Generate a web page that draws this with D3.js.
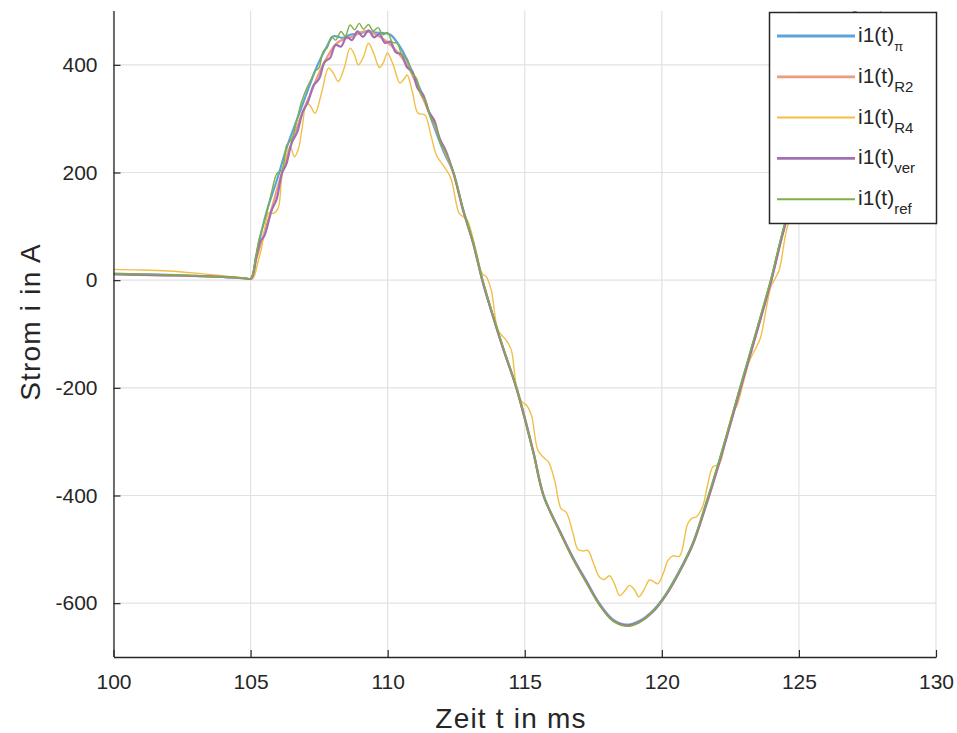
<!DOCTYPE html>
<html>
<head>
<meta charset="utf-8">
<script src="https://cdn.jsdelivr.net/npm/d3@7"></script>
<style>
  body { margin: 0; background: #fff; }
  svg { display: block; }
  text { font-family: "Liberation Sans", Arial, sans-serif; fill: #262626; }
</style>
</head>
<body>
<svg id="chart" width="957" height="733"></svg>
<script>
// Axis ticks
const xTicks = [100, 105, 110, 115, 120, 125, 130];
const yTicks = [-600, -400, -200, 0, 200, 400];

// Current i1(t) in A over time t in ms, one list of [t, i] per model
const iPi = [
  [100,12],[101,11],[102,10],[103,8],[104,6],[104.8,3.5],[105.02,3],[105.2,45],[105.35,80],[105.6,130],
  [105.96,186],[106.33,248],[106.69,298],[107.05,348],[107.42,397],[107.78,434],[108.02,453],
  [108.38,450],[108.63,456],[108.95,458],[109.24,462],[109.55,460],[109.85,459],[110.1,456],
  [110.3,445],[110.55,425],[110.81,397],[111.05,370],[111.3,341],[111.55,305],[111.78,273],
  [112.05,238],[112.39,201],[112.75,130],[113.12,68],[113.45,0],[113.8,-60],[114.2,-125],
  [114.7,-200],[115.3,-316],[115.69,-400],[116.27,-465],[116.76,-515],[117.24,-558],
  [117.73,-601],[118.21,-630],[118.7,-640],[119.18,-633],[119.67,-614],[120.15,-583],
  [120.64,-540],[121.12,-490],[121.55,-425],[122.1,-335],[122.83,-205],[123.43,-99],
  [123.98,0],[124.4,87],[125,195],[125.5,280],[126,360],[126.5,430],[127,495],[127.5,555],[128,600]
];
const iR2 = [
  [100,11],[102,9],[104,6],[104.8,3.5],[105.02,3],[105.2,38],[105.4,72],[105.7,120],[106.0,175],
  [106.3,225],[106.6,270],[106.9,312],[107.2,348],[107.5,385],[107.8,415],[108.1,438],
  [108.4,448],[108.7,452],[109.0,460],[109.3,462],[109.6,455],[109.9,446],[110.2,432],
  [110.5,415],[110.8,392],[111.1,358],[111.4,325],[111.7,290],[112.0,250],[112.4,199],
  [112.75,131],[113.12,69],[113.45,1],[113.8,-60],[114.2,-125],[114.7,-201],[115.3,-317],
  [115.69,-401],[116.27,-466],[116.76,-517],[117.24,-560],[117.73,-603],[118.21,-632],
  [118.7,-641],[119.18,-635],[119.67,-616],[120.15,-585],[120.64,-542],[121.12,-492],
  [121.55,-428],[122.1,-338],[122.83,-208],[123.43,-102],[123.98,-3],[124.4,84],[125,192],
  [125.5,277],[126,357],[126.5,428],[127,492],[127.5,552],[128,598]
];
const iR4 = [
  [100,20],[101,19],[102,17],[103,13],[104,8],[104.8,4],[105.08,3],[105.25,30],[105.41,62],[105.6,118],
  [105.68,126],[105.83,124],[106.0,133],[106.14,192],[106.3,232],[106.45,248],[106.6,229],
  [106.75,245],[106.87,279],[107.05,329],[107.2,322],[107.35,310],[107.6,350],[107.84,394],
  [108.02,384],[108.2,369],[108.42,395],[108.63,431],[108.78,420],[108.93,400],[109.12,415],
  [109.3,440],[109.5,420],[109.7,395],[109.85,405],[109.99,422],[110.2,400],[110.45,366],
  [110.6,374],[110.71,381],[110.9,350],[111.11,310],[111.36,307],[111.55,275],[111.78,232],
  [112.0,215],[112.3,190],[112.6,125],[112.75,118],[112.9,112],[113.2,60],[113.45,12],
  [113.6,6],[113.78,-19],[114.03,-93],[114.33,-112],[114.51,-130],[114.7,-198],[114.9,-226],
  [115.06,-232],[115.24,-250],[115.48,-316],[115.7,-330],[115.87,-338],[116.09,-372],
  [116.33,-425],[116.51,-431],[116.75,-468],[116.94,-500],[117.12,-503],[117.3,-502],
  [117.5,-525],[117.73,-552],[117.9,-556],[118.09,-549],[118.28,-565],[118.46,-586],
  [118.64,-578],[118.82,-567],[119.0,-575],[119.16,-588],[119.35,-575],[119.55,-557],
  [119.7,-560],[119.85,-564],[120.05,-545],[120.22,-521],[120.4,-512],[120.64,-513],
  [120.94,-453],[121.1,-442],[121.25,-440],[121.49,-420],[121.67,-380],[121.86,-347],
  [122.1,-341],[122.35,-290],[122.58,-248],[122.75,-232],[123.0,-185],[123.2,-150],
  [123.49,-120],[123.61,-105],[123.8,-55],[123.98,-12],[124.1,0],[124.28,19],[124.58,99],
  [125,150],[125.5,225],[126,300],[126.5,370],[127,425],[127.5,465],[128,500],[128.5,540]
];
const iVer = [
  [100,11],[101,10],[102,9],[103,8],[104,6],[104.8,3.5],[105.02,3],[105.2,40],[105.35,71],[105.5,82],
  [105.77,130],[105.95,150],[106.14,198],[106.3,215],[106.5,255],[106.7,275],[106.9,312],
  [107.1,332],[107.3,362],[107.5,374],[107.7,405],[107.9,413],[108.1,437],[108.3,434],
  [108.5,452],[108.7,446],[108.9,462],[109.1,452],[109.3,464],[109.5,451],[109.7,457],
  [109.9,441],[110.1,443],[110.3,423],[110.5,420],[110.7,396],[110.9,387],[111.1,356],
  [111.3,344],[111.5,313],[111.7,297],[111.9,262],[112.1,243],[112.4,199],[112.75,131],
  [113.12,69],[113.45,1],[113.8,-60],[114.2,-125],[114.7,-201],[115.3,-317],[115.69,-401],
  [116.27,-466],[116.76,-517],[117.24,-560],[117.73,-603],[118.21,-632],[118.7,-641],
  [119.18,-635],[119.67,-616],[120.15,-585],[120.64,-542],[121.12,-492],[121.55,-428],
  [122.1,-338],[122.83,-208],[123.43,-102],[123.98,-3],[124.4,84],[125,192],[125.5,277],
  [126,357],[126.5,428],[127,492],[127.5,552],[128,598]
];
const iRef = [
  [100,12],[101,11],[102,10],[103,8],[104,6],[104.8,3.5],[105.0,3],[105.15,30],[105.3,74],[105.45,100],
  [105.6,127],[105.75,160],[105.96,198],[106.15,205],[106.32,251],[106.5,262],[106.7,300],
  [106.85,330],[107.05,357],[107.2,372],[107.35,388],[107.5,395],[107.65,425],[107.8,432],
  [107.95,452],[108.1,446],[108.3,462],[108.45,453],[108.63,474],[108.8,465],[108.96,477],
  [109.12,466],[109.3,475],[109.47,463],[109.65,469],[109.82,456],[110.0,460],[110.17,442],
  [110.35,440],[110.52,418],[110.7,412],[110.87,385],[111.05,375],[111.22,345],[111.4,332],
  [111.58,300],[111.75,287],[111.92,255],[112.1,240],[112.4,200],[112.75,132],[113.12,70],
  [113.45,2],[113.8,-58],[114.2,-123],[114.7,-200],[115.3,-318],[115.69,-400],[116.27,-467],
  [116.76,-518],[117.24,-562],[117.73,-604],[118.21,-633],[118.7,-643],[119.18,-636],
  [119.67,-615],[120.15,-584],[120.64,-541],[121.12,-490],[121.55,-424],[122.1,-333],
  [122.83,-202],[123.43,-96],[123.98,3],[124.4,90],[125,200],[125.5,285],[126,365],
  [126.5,435],[127,500],[127.5,560],[128,605]
];

const seriesData = [iPi, iR2, iR4, iVer, iRef];
const seriesSubs = ["π", "R2", "R4", "ver", "ref"];

// Styling
const colors = ["#5ea3d9", "#ec9c7d", "#f1bf48", "#a46fb2", "#7ab243"];
const widths = [2.2, 2.2, 1.4, 2.2, 1.4];

const svg = d3.select("#chart");
const L = 113.5, R = 936, T = 11, B = 657;

const x = d3.scaleLinear().domain([100, 130]).range([L, R]);
const y = d3.scaleLinear().domain([-700, 500]).range([B, T]);

// Grid
const grid = svg.append("g").attr("stroke", "#e2e2e2").attr("stroke-width", 1.2);
grid.selectAll(".gx").data(xTicks).join("line")
  .attr("x1", d => x(d)).attr("x2", d => x(d)).attr("y1", T).attr("y2", B);
grid.selectAll(".gy").data(yTicks).join("line")
  .attr("x1", L).attr("x2", R).attr("y1", d => y(d)).attr("y2", d => y(d));

// Curves
svg.append("clipPath").attr("id", "plotClip")
  .append("rect").attr("x", L).attr("y", T).attr("width", R - L).attr("height", B - T);

const line = d3.line()
  .x(d => x(d[0])).y(d => y(d[1]))
  .curve(d3.curveCatmullRom.alpha(0.5));

svg.append("g").attr("clip-path", "url(#plotClip)")
  .selectAll("path").data(seriesData).join("path")
  .attr("fill", "none")
  .attr("stroke", (d, i) => colors[i])
  .attr("stroke-width", (d, i) => widths[i])
  .attr("stroke-linejoin", "round")
  .attr("d", line);

// Axes (plain hyphen for negative numbers)
const axisColor = "#262626";
const fmt = d => String(d);
const gx = svg.append("g").attr("transform", `translate(0,${B})`)
  .call(d3.axisBottom(x).tickValues(xTicks).tickSizeInner(-7).tickSizeOuter(0).tickPadding(17)
    .tickFormat(fmt));
const gy = svg.append("g").attr("transform", `translate(${L},0)`)
  .call(d3.axisLeft(y).tickValues(yTicks).tickSizeInner(-7).tickSizeOuter(0).tickPadding(16)
    .tickFormat(fmt));
[gx, gy].forEach(g => {
  g.select(".domain").attr("stroke", axisColor).attr("stroke-width", 1.3);
  g.selectAll(".tick line").attr("stroke", axisColor).attr("stroke-width", 1.2);
  g.selectAll(".tick text").attr("font-size", 21).attr("fill", axisColor)
    .attr("font-family", "'Liberation Sans', Arial, sans-serif");
});
gy.select(".domain").attr("d", `M0.5,${T}V${B}`);

// Axis titles
svg.append("text").attr("x", 511).attr("y", 728)
  .attr("text-anchor", "middle").attr("font-size", 28).attr("letter-spacing", 1.2)
  .text("Zeit t in ms");
svg.append("text").attr("transform", `translate(40,322) rotate(-90)`)
  .attr("text-anchor", "middle").attr("font-size", 28).attr("letter-spacing", 1.2)
  .text("Strom i in A");

// Legend
const lg = svg.append("g");
lg.append("rect").attr("x", 769.5).attr("y", 12.5).attr("width", 167).attr("height", 211)
  .attr("fill", "#fff").attr("stroke", "#262626").attr("stroke-width", 1.5);
const rows = lg.selectAll(".row").data(seriesSubs).join("g")
  .attr("transform", (d, i) => `translate(0,${36 + i * 40.8})`);
rows.append("line").attr("x1", 777).attr("x2", 855).attr("y1", 0).attr("y2", 0)
  .attr("stroke", (d, i) => colors[i]).attr("stroke-width", (d, i) => widths[i] + 0.6);
const lt = rows.append("text").attr("x", 858).attr("y", 6).attr("font-size", 21);
lt.append("tspan").text("i1(t)");
lt.append("tspan").attr("dy", 9).attr("font-size", (d, i) => i === 0 ? 13 : 15).text(d => d);
</script>
</body>
</html>
